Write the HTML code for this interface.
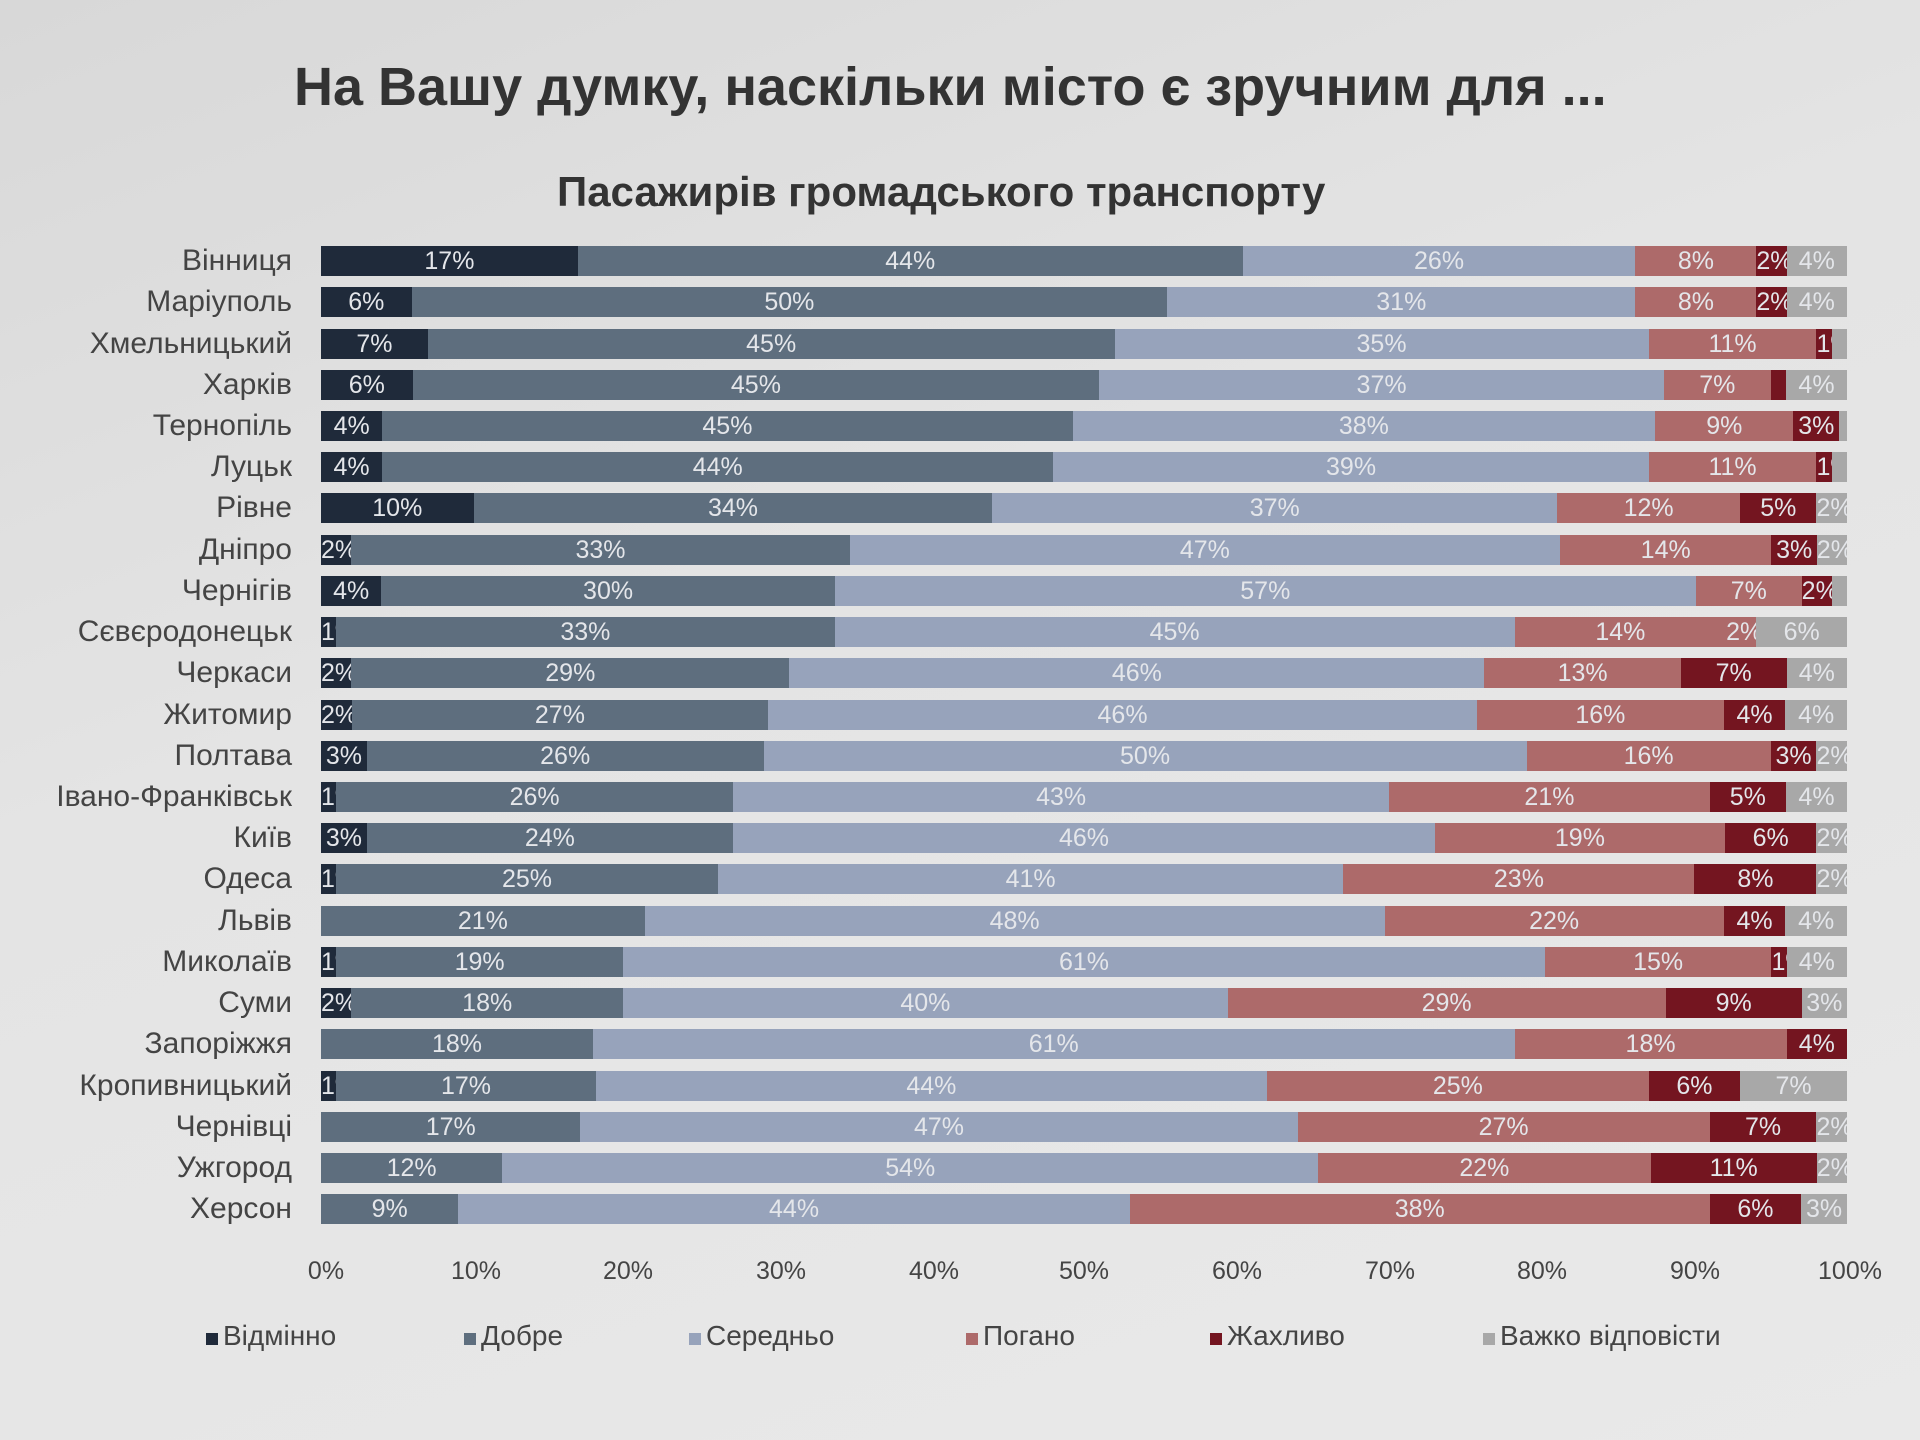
<!DOCTYPE html>
<html><head><meta charset="utf-8"><style>
body{margin:0;width:1920px;height:1440px;overflow:hidden;background:linear-gradient(160deg,#d8d8d8 0%,#e4e4e4 40%,#e9e9e9 100%);font-family:"Liberation Sans","DejaVu Sans",sans-serif;position:relative}
.t{position:absolute;left:294px;top:56px;font-size:54px;font-weight:bold;color:#333}
.s{position:absolute;left:557px;top:168px;font-size:42px;font-weight:bold;color:#333}
.r{position:absolute;left:0;width:1920px;height:30px}
.l{position:absolute;right:1628px;top:0;line-height:30px;font-size:30px;color:#444;white-space:nowrap}
.b{position:absolute;left:321px;width:1526px;height:30px;display:flex}
.b i{font-style:normal;display:block;overflow:hidden;text-align:center;line-height:30px;font-size:25px;color:#e4e6ea;white-space:nowrap;flex-basis:0}
.a{background:#1f2a3a}.d{background:#5e6e7e}.m{background:#97a3bb}.p{background:#ad6a6a}.z{background:#741520}.g{background:#a8a8a8}
.x{position:absolute;top:1257px;font-size:25px;color:#444;transform:translateX(-50%)}
.lg{position:absolute;top:1320px;font-size:28px;color:#444}
.lg b{display:inline-block;width:12px;height:12px;margin-right:5px}
</style></head><body>
<div class="t">На Вашу думку, наскільки місто є зручним для ...</div>
<div class="s">Пасажирів громадського транспорту</div>

<div class="r" style="top:246px"><span class="l">Вінниця</span><div class="b"><i class="a" style="flex-grow:17">17%</i><i class="d" style="flex-grow:44">44%</i><i class="m" style="flex-grow:26">26%</i><i class="p" style="flex-grow:8">8%</i><i class="z" style="flex-grow:2">2%</i><i class="g" style="flex-grow:4">4%</i></div></div>
<div class="r" style="top:287px"><span class="l">Маріуполь</span><div class="b"><i class="a" style="flex-grow:6">6%</i><i class="d" style="flex-grow:50">50%</i><i class="m" style="flex-grow:31">31%</i><i class="p" style="flex-grow:8">8%</i><i class="z" style="flex-grow:2">2%</i><i class="g" style="flex-grow:4">4%</i></div></div>
<div class="r" style="top:329px"><span class="l">Хмельницький</span><div class="b"><i class="a" style="flex-grow:7">7%</i><i class="d" style="flex-grow:45">45%</i><i class="m" style="flex-grow:35">35%</i><i class="p" style="flex-grow:11">11%</i><i class="z" style="flex-grow:1">1%</i><i class="g" style="flex-grow:1"></i></div></div>
<div class="r" style="top:370px"><span class="l">Харків</span><div class="b"><i class="a" style="flex-grow:6">6%</i><i class="d" style="flex-grow:45">45%</i><i class="m" style="flex-grow:37">37%</i><i class="p" style="flex-grow:7">7%</i><i class="z" style="flex-grow:1"></i><i class="g" style="flex-grow:4">4%</i></div></div>
<div class="r" style="top:411px"><span class="l">Тернопіль</span><div class="b"><i class="a" style="flex-grow:4">4%</i><i class="d" style="flex-grow:45">45%</i><i class="m" style="flex-grow:38">38%</i><i class="p" style="flex-grow:9">9%</i><i class="z" style="flex-grow:3">3%</i><i class="g" style="flex-grow:0.5"></i></div></div>
<div class="r" style="top:452px"><span class="l">Луцьк</span><div class="b"><i class="a" style="flex-grow:4">4%</i><i class="d" style="flex-grow:44">44%</i><i class="m" style="flex-grow:39">39%</i><i class="p" style="flex-grow:11">11%</i><i class="z" style="flex-grow:1">1%</i><i class="g" style="flex-grow:1"></i></div></div>
<div class="r" style="top:493px"><span class="l">Рівне</span><div class="b"><i class="a" style="flex-grow:10">10%</i><i class="d" style="flex-grow:34">34%</i><i class="m" style="flex-grow:37">37%</i><i class="p" style="flex-grow:12">12%</i><i class="z" style="flex-grow:5">5%</i><i class="g" style="flex-grow:2">2%</i></div></div>
<div class="r" style="top:535px"><span class="l">Дніпро</span><div class="b"><i class="a" style="flex-grow:2">2%</i><i class="d" style="flex-grow:33">33%</i><i class="m" style="flex-grow:47">47%</i><i class="p" style="flex-grow:14">14%</i><i class="z" style="flex-grow:3">3%</i><i class="g" style="flex-grow:2">2%</i></div></div>
<div class="r" style="top:576px"><span class="l">Чернігів</span><div class="b"><i class="a" style="flex-grow:4">4%</i><i class="d" style="flex-grow:30">30%</i><i class="m" style="flex-grow:57">57%</i><i class="p" style="flex-grow:7">7%</i><i class="z" style="flex-grow:2">2%</i><i class="g" style="flex-grow:1"></i></div></div>
<div class="r" style="top:617px"><span class="l">Сєвєродонецьк</span><div class="b"><i class="a" style="flex-grow:1">1%</i><i class="d" style="flex-grow:33">33%</i><i class="m" style="flex-grow:45">45%</i><i class="p" style="flex-grow:14">14%</i><i class="p" style="flex-grow:2">2%</i><i class="g" style="flex-grow:6">6%</i></div></div>
<div class="r" style="top:658px"><span class="l">Черкаси</span><div class="b"><i class="a" style="flex-grow:2">2%</i><i class="d" style="flex-grow:29">29%</i><i class="m" style="flex-grow:46">46%</i><i class="p" style="flex-grow:13">13%</i><i class="z" style="flex-grow:7">7%</i><i class="g" style="flex-grow:4">4%</i></div></div>
<div class="r" style="top:700px"><span class="l">Житомир</span><div class="b"><i class="a" style="flex-grow:2">2%</i><i class="d" style="flex-grow:27">27%</i><i class="m" style="flex-grow:46">46%</i><i class="p" style="flex-grow:16">16%</i><i class="z" style="flex-grow:4">4%</i><i class="g" style="flex-grow:4">4%</i></div></div>
<div class="r" style="top:741px"><span class="l">Полтава</span><div class="b"><i class="a" style="flex-grow:3">3%</i><i class="d" style="flex-grow:26">26%</i><i class="m" style="flex-grow:50">50%</i><i class="p" style="flex-grow:16">16%</i><i class="z" style="flex-grow:3">3%</i><i class="g" style="flex-grow:2">2%</i></div></div>
<div class="r" style="top:782px"><span class="l">Івано-Франківськ</span><div class="b"><i class="a" style="flex-grow:1">1%</i><i class="d" style="flex-grow:26">26%</i><i class="m" style="flex-grow:43">43%</i><i class="p" style="flex-grow:21">21%</i><i class="z" style="flex-grow:5">5%</i><i class="g" style="flex-grow:4">4%</i></div></div>
<div class="r" style="top:823px"><span class="l">Київ</span><div class="b"><i class="a" style="flex-grow:3">3%</i><i class="d" style="flex-grow:24">24%</i><i class="m" style="flex-grow:46">46%</i><i class="p" style="flex-grow:19">19%</i><i class="z" style="flex-grow:6">6%</i><i class="g" style="flex-grow:2">2%</i></div></div>
<div class="r" style="top:864px"><span class="l">Одеса</span><div class="b"><i class="a" style="flex-grow:1">1%</i><i class="d" style="flex-grow:25">25%</i><i class="m" style="flex-grow:41">41%</i><i class="p" style="flex-grow:23">23%</i><i class="z" style="flex-grow:8">8%</i><i class="g" style="flex-grow:2">2%</i></div></div>
<div class="r" style="top:906px"><span class="l">Львів</span><div class="b"><i class="d" style="flex-grow:21">21%</i><i class="m" style="flex-grow:48">48%</i><i class="p" style="flex-grow:22">22%</i><i class="z" style="flex-grow:4">4%</i><i class="g" style="flex-grow:4">4%</i></div></div>
<div class="r" style="top:947px"><span class="l">Миколаїв</span><div class="b"><i class="a" style="flex-grow:1">1%</i><i class="d" style="flex-grow:19">19%</i><i class="m" style="flex-grow:61">61%</i><i class="p" style="flex-grow:15">15%</i><i class="z" style="flex-grow:1">1%</i><i class="g" style="flex-grow:4">4%</i></div></div>
<div class="r" style="top:988px"><span class="l">Суми</span><div class="b"><i class="a" style="flex-grow:2">2%</i><i class="d" style="flex-grow:18">18%</i><i class="m" style="flex-grow:40">40%</i><i class="p" style="flex-grow:29">29%</i><i class="z" style="flex-grow:9">9%</i><i class="g" style="flex-grow:3">3%</i></div></div>
<div class="r" style="top:1029px"><span class="l">Запоріжжя</span><div class="b"><i class="d" style="flex-grow:18">18%</i><i class="m" style="flex-grow:61">61%</i><i class="p" style="flex-grow:18">18%</i><i class="z" style="flex-grow:4">4%</i></div></div>
<div class="r" style="top:1071px"><span class="l">Кропивницький</span><div class="b"><i class="a" style="flex-grow:1">1%</i><i class="d" style="flex-grow:17">17%</i><i class="m" style="flex-grow:44">44%</i><i class="p" style="flex-grow:25">25%</i><i class="z" style="flex-grow:6">6%</i><i class="g" style="flex-grow:7">7%</i></div></div>
<div class="r" style="top:1112px"><span class="l">Чернівці</span><div class="b"><i class="d" style="flex-grow:17">17%</i><i class="m" style="flex-grow:47">47%</i><i class="p" style="flex-grow:27">27%</i><i class="z" style="flex-grow:7">7%</i><i class="g" style="flex-grow:2">2%</i></div></div>
<div class="r" style="top:1153px"><span class="l">Ужгород</span><div class="b"><i class="d" style="flex-grow:12">12%</i><i class="m" style="flex-grow:54">54%</i><i class="p" style="flex-grow:22">22%</i><i class="z" style="flex-grow:11">11%</i><i class="g" style="flex-grow:2">2%</i></div></div>
<div class="r" style="top:1194px"><span class="l">Херсон</span><div class="b"><i class="d" style="flex-grow:9">9%</i><i class="m" style="flex-grow:44">44%</i><i class="p" style="flex-grow:38">38%</i><i class="z" style="flex-grow:6">6%</i><i class="g" style="flex-grow:3">3%</i></div></div>

<div class="x" style="left:326px">0%</div>
<div class="x" style="left:476px">10%</div>
<div class="x" style="left:628px">20%</div>
<div class="x" style="left:781px">30%</div>
<div class="x" style="left:934px">40%</div>
<div class="x" style="left:1084px">50%</div>
<div class="x" style="left:1237px">60%</div>
<div class="x" style="left:1390px">70%</div>
<div class="x" style="left:1542px">80%</div>
<div class="x" style="left:1695px">90%</div>
<div class="x" style="left:1850px">100%</div>

<div class="lg" style="left:206px"><b class="a"></b>Відмінно</div>
<div class="lg" style="left:464px"><b class="d"></b>Добре</div>
<div class="lg" style="left:689px"><b class="m"></b>Середньо</div>
<div class="lg" style="left:966px"><b class="p"></b>Погано</div>
<div class="lg" style="left:1210px"><b class="z"></b>Жахливо</div>
<div class="lg" style="left:1483px"><b class="g"></b>Важко відповісти</div>
</body></html>
